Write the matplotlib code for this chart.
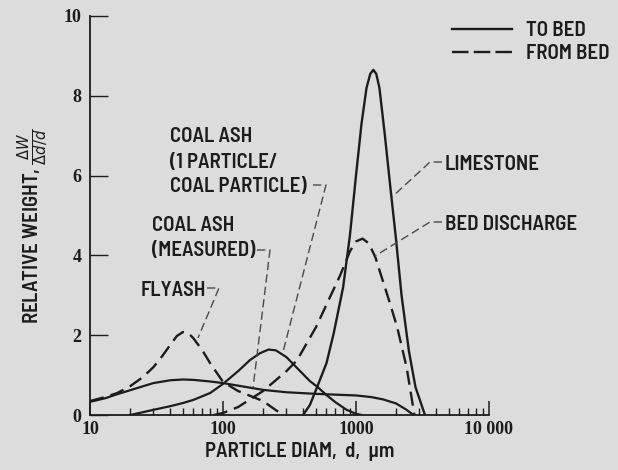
import matplotlib
matplotlib.use("Agg")
import matplotlib.pyplot as plt
from matplotlib.lines import Line2D
from matplotlib.ticker import FixedLocator, FixedFormatter, LogLocator, NullFormatter

# particle diameter (um) and relative weight
flyash_d = [10, 13, 16, 20, 25, 30, 35, 40, 45, 50, 55, 60, 70, 80, 100, 130, 160, 200, 250, 290]
flyash_w = [0.35, 0.45, 0.55, 0.72, 0.95, 1.2, 1.48, 1.75, 1.98, 2.08, 2.05, 1.92, 1.62, 1.3, 0.83, 0.6, 0.48, 0.35, 0.12, 0.0]

measured_d = [10, 13, 16, 20, 25, 30, 40, 50, 60, 80, 100, 150, 200, 300, 500, 700, 1000, 1300, 1600, 2000, 2400, 2700]
measured_w = [0.33, 0.42, 0.52, 0.62, 0.72, 0.8, 0.87, 0.89, 0.88, 0.84, 0.8, 0.7, 0.63, 0.57, 0.53, 0.51, 0.49, 0.45, 0.39, 0.29, 0.13, 0.0]

particle_d = [20, 25, 30, 40, 50, 60, 80, 100, 130, 160, 190, 220, 250, 300, 380, 450, 515, 600, 700, 850, 1000, 1100]
particle_w = [0.0, 0.07, 0.13, 0.22, 0.3, 0.38, 0.55, 0.78, 1.1, 1.38, 1.55, 1.64, 1.62, 1.45, 1.1, 0.85, 0.7, 0.5, 0.32, 0.13, 0.03, 0.0]

bed_d = [85, 100, 130, 200, 300, 360, 500, 760, 900, 1000, 1120, 1250, 1400, 1510, 1800, 2040, 2400, 2750]
bed_w = [0.0, 0.05, 0.2, 0.6, 1.1, 1.37, 2.2, 3.5, 4.1, 4.35, 4.42, 4.3, 3.95, 3.6, 2.8, 2.2, 1.2, 0.0]

lime_d = [400, 450, 510, 600, 680, 800, 900, 1000, 1100, 1200, 1280, 1350, 1420, 1500, 1650, 1800, 2000, 2200, 2500, 2800, 3300]
lime_w = [0.0, 0.25, 0.7, 1.3, 2.05, 3.2, 4.5, 6.0, 7.3, 8.2, 8.55, 8.65, 8.55, 8.2, 7.0, 5.8, 4.4, 3.0, 1.6, 0.7, 0.0]

x_ticks = [10, 100, 1000, 10000]
x_tick_labels = ["10", "100", "1000", "10 000"]
y_ticks = [0, 2, 4, 6, 8, 10]

BG = "#dcdcdc"
INK = "#1c1c1c"
FONT = ["Barlow Semi Condensed", "Barlow Condensed", "DejaVu Sans"]
NUMFONT = ["Liberation Serif", "DejaVu Serif"]
FS = 15
WT = 600

W, H = 618, 470
fig = plt.figure(figsize=(W / 100, H / 100), dpi=100, facecolor=BG)
ax = fig.add_axes([90 / W, 1 - 415 / H, (489 - 90) / W, (415 - 16) / H])
ax.set_facecolor(BG)

dash = (0, (6, 3))
ax.plot(flyash_d, flyash_w, color=INK, lw=1.7, linestyle=dash)
ax.plot(measured_d, measured_w, color=INK, lw=1.6)
ax.plot(particle_d, particle_w, color=INK, lw=1.6)
ax.plot(bed_d, bed_w, color=INK, lw=1.7, linestyle=dash)
ax.plot(lime_d, lime_w, color=INK, lw=1.7)

ax.set_xscale("log")
ax.set_xlim(10, 10000)
ax.set_ylim(0, 10)
for s in ("top", "right"):
    ax.spines[s].set_visible(False)
for s in ("left", "bottom"):
    ax.spines[s].set_color(INK)
    ax.spines[s].set_linewidth(1.3)

ax.xaxis.set_major_locator(FixedLocator(x_ticks))
ax.xaxis.set_major_formatter(FixedFormatter(x_tick_labels))
ax.xaxis.set_minor_locator(LogLocator(base=10, subs=range(2, 10)))
ax.xaxis.set_minor_formatter(NullFormatter())
ax.set_yticks(y_ticks)
ax.tick_params(axis="x", which="major", direction="in", length=10, width=1.1, colors=INK, pad=4)
ax.tick_params(axis="x", which="minor", direction="in", length=5, width=1.0, colors=INK)
ax.tick_params(axis="y", which="major", direction="in", length=13, width=1.0, colors=INK, pad=6)
for lab in ax.get_xticklabels() + ax.get_yticklabels():
    lab.set_family(NUMFONT)
    lab.set_fontweight("bold")
    lab.set_fontsize(13)

ax.set_xlabel("PARTICLE DIAM,  d,  \u03bcm", family=FONT, fontsize=15, weight=WT, color=INK)
ax.xaxis.set_label_coords((300 - 90) / 399, -27 / 399)
fig.text(33 / W, 1 - 226 / H, r"RELATIVE WEIGHT, $\frac{\Delta W}{\Delta d/d}$", rotation=90,
         family=FONT, fontsize=FS, weight=WT, color=INK, ha="center", va="center")


def fxy(px, py):
    return px / W, 1 - py / H


# labels with dashed leader lines (pixel positions, text block centre)
notes = [
    ("COAL ASH\n(1 PARTICLE/\nCOAL PARTICLE)", (170, 162), [(313, 185), (326, 185), (283, 352)]),
    ("COAL ASH\n(MEASURED)", (152, 238), [(257, 250), (270, 250), (253, 388)]),
    ("FLYASH", (141, 290), [(207, 288), (219, 288), (198, 338)]),
    ("LIMESTONE", (445, 164), [(442, 162), (430, 162), (392, 197)]),
    ("BED DISCHARGE", (445, 224), [(442, 222), (430, 222), (375, 256)]),
]
for txt, (tx, ty), pts in notes:
    x0, y0 = fxy(tx, ty)
    fig.text(x0, y0, txt, family=FONT, fontsize=FS, weight=WT, color=INK, ha="left", va="center",
             linespacing=1.4)
    xs = [fxy(p[0], p[1])[0] for p in pts]
    ys = [fxy(p[0], p[1])[1] for p in pts]
    fig.add_artist(Line2D(xs, ys, transform=fig.transFigure, color="#4a4a4a", lw=1.0,
                          linestyle=(0, (6, 3))))

handles = [Line2D([], [], color=INK, lw=1.7),
           Line2D([], [], color=INK, lw=1.7, linestyle=(0, (7, 2.2)))]
fig.legend(handles, ["TO BED", "FROM BED"], loc="upper left", bbox_to_anchor=fxy(452, 21),
           frameon=False, handlelength=2.9, handletextpad=0.65, labelspacing=0.2,
           prop={"family": FONT, "size": FS, "weight": WT}, labelcolor=INK, borderpad=0,
           borderaxespad=0)

fig.savefig("out.png", dpi=100, facecolor=BG)
